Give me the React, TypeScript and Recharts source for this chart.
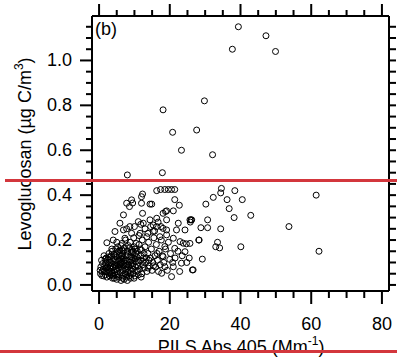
import React from "react";
import { ScatterChart, Scatter, XAxis, YAxis } from "recharts";

// sparse high values
const highOutliers: [number, number][] = [
  [39.4, 1.15], [47.2, 1.11], [37.7, 1.05], [49.9, 1.04], [29.8, 0.82],
  [18.1, 0.78], [27.6, 0.69], [20.8, 0.68], [23.3, 0.6], [32.1, 0.58],
  [17.9, 0.5], [8.0, 0.49],
];

// right hand spread, x > 25
const upperSpread: [number, number][] = [
  [34.6, 0.43], [34.4, 0.41], [38.4, 0.42], [40.5, 0.38], [32.3, 0.39],
  [30.2, 0.36], [36.2, 0.38], [36.8, 0.34], [38.2, 0.3], [42.9, 0.31],
  [61.4, 0.4], [53.7, 0.26], [62.2, 0.15], [40.1, 0.17], [34.4, 0.25],
  [30.7, 0.29], [28.8, 0.255], [30.7, 0.255], [28.2, 0.2], [33.5, 0.19],
  [33.0, 0.17], [34.1, 0.165], [29.2, 0.115], [26.4, 0.067], [26.0, 0.29],
  [25.8, 0.28], [25.7, 0.185], [26.2, 0.29], [26.6, 0.067],
];

// middle range, x 4..25
const midSpread: [number, number][] = [
  [16.3, 0.42], [17.4, 0.425], [18.6, 0.425], [19.6, 0.425], [20.5, 0.425], [21.4, 0.425],
  [21.4, 0.38], [22.7, 0.355], [21.0, 0.33], [19.1, 0.33], [25.7, 0.29], [28.3, 0.2],
  [20.5, 0.037], [23.3, 0.097], [24.3, 0.148], [24.7, 0.183], [23.8, 0.186], [21.0, 0.208],
  [21.4, 0.163], [21.9, 0.245], [22.4, 0.275], [19.1, 0.29], [18.1, 0.252], [19.1, 0.223],
  [18.6, 0.171], [18.1, 0.126], [20.0, 0.114], [18.6, 0.081], [17.7, 0.052], [21.0, 0.081],
  [12.3, 0.405], [12.0, 0.393], [9.2, 0.379], [7.8, 0.364], [8.6, 0.349], [12.0, 0.364],
  [14.4, 0.36], [6.9, 0.312], [12.3, 0.319], [11.1, 0.282], [12.5, 0.275], [18.1, 0.319],
  [5.9, 0.275], [4.5, 0.238], [6.9, 0.245], [8.7, 0.26], [9.2, 0.23], [2.2, 0.188],
  [4.0, 0.2], [7.3, 0.208], [11.6, 0.23], [13.5, 0.215], [16.3, 0.26], [15.3, 0.238],
  [17.2, 0.215], [19.1, 0.245], [14.4, 0.29], [16.3, 0.297], [15.3, 0.267], [7.8, 0.25],
  [9.5, 0.365], [14.9, 0.36], [18.8, 0.327], [24.3, 0.245], [22.9, 0.193],
];

// edge of the cluster
const fringe: [number, number][] = [
  [12.5, 0.12], [12.8, 0.075], [13.0, 0.17], [13.2, 0.1], [13.5, 0.06], [13.8, 0.14],
  [14.0, 0.19], [14.2, 0.085], [14.5, 0.12], [14.8, 0.16], [15.0, 0.065], [15.2, 0.1],
  [15.5, 0.21], [15.8, 0.13], [16.0, 0.08], [16.2, 0.18], [16.5, 0.11], [16.8, 0.06],
  [17.0, 0.15], [17.3, 0.09], [17.6, 0.2], [17.9, 0.13], [18.3, 0.1], [18.8, 0.16],
  [19.3, 0.065], [19.6, 0.19], [20.2, 0.14], [20.8, 0.1], [21.5, 0.12], [22.3, 0.15],
  [22.8, 0.06], [23.5, 0.13], [24.8, 0.1], [25.5, 0.12],
  [5.0, 0.19], [6.2, 0.175], [7.5, 0.2], [8.8, 0.19], [9.8, 0.21], [10.5, 0.185],
  [11.3, 0.22], [12.2, 0.2], [13.0, 0.25], [13.8, 0.23], [14.6, 0.26], [15.7, 0.24],
  [16.7, 0.28], [17.5, 0.26], [10.0, 0.26], [11.8, 0.27],
];

// dense core near the origin
const coreA: [number, number][] = [
  [0.4, 0.05], [0.5, 0.08], [0.3, 0.065], [0.8, 0.042], [1.0, 0.095], [0.7, 0.11],
  [1.5, 0.06], [1.6, 0.085], [1.8, 0.045], [2.0, 0.12], [1.9, 0.1], [2.2, 0.035], [1.4, 0.13],
  [2.5, 0.07], [2.7, 0.055], [2.6, 0.09], [2.9, 0.11], [3.0, 0.04], [2.8, 0.14], [3.1, 0.075], [3.2, 0.125],
  [3.5, 0.06], [3.6, 0.095], [3.8, 0.03], [3.7, 0.15], [4.0, 0.08], [4.1, 0.115], [3.9, 0.05], [4.2, 0.135], [4.3, 0.065],
  [4.5, 0.1], [4.6, 0.045], [4.8, 0.085], [4.7, 0.16], [5.0, 0.125], [5.1, 0.06], [5.0, 0.025], [4.9, 0.14], [5.3, 0.105],
  [5.5, 0.075], [5.6, 0.035], [5.8, 0.09], [5.7, 0.13], [6.0, 0.055], [6.1, 0.115], [5.9, 0.155], [6.2, 0.02], [6.3, 0.08],
  [6.5, 0.1], [6.6, 0.04], [6.8, 0.065], [6.7, 0.14], [7.0, 0.085], [7.1, 0.025], [6.9, 0.12], [7.2, 0.165], [7.3, 0.05],
  [7.5, 0.095], [7.6, 0.07], [7.8, 0.035], [7.7, 0.13], [8.0, 0.11], [8.1, 0.055], [7.9, 0.15], [8.2, 0.08], [8.3, 0.175],
  [8.5, 0.04], [8.6, 0.1], [8.8, 0.065], [8.7, 0.125], [9.0, 0.09], [9.1, 0.145], [8.9, 0.03], [9.3, 0.11], [9.2, 0.16],
  [9.5, 0.07], [9.6, 0.05], [9.8, 0.12], [9.7, 0.095], [10.0, 0.135], [10.1, 0.04], [9.9, 0.17], [10.3, 0.08],
  [10.5, 0.105], [10.6, 0.06], [10.8, 0.15], [10.7, 0.125], [11.0, 0.085], [11.1, 0.045], [11.3, 0.18], [11.2, 0.1],
  [11.5, 0.07], [11.8, 0.13], [11.7, 0.11], [12.0, 0.155], [12.1, 0.05], [12.3, 0.09],
];

const coreB: [number, number][] = [
  [1.2, 0.07], [2.3, 0.08], [3.3, 0.1], [4.4, 0.09], [5.4, 0.09], [6.4, 0.07], [7.4, 0.11],
  [8.4, 0.09], [9.4, 0.085], [2.1, 0.06], [3.4, 0.045], [4.4, 0.055], [5.2, 0.045], [6.4, 0.13],
  [7.6, 0.045], [8.3, 0.06], [5.6, 0.11], [4.3, 0.03], [6.0, 0.095], [7.0, 0.105], [3.0, 0.06],
  [1.3, 0.04], [2.4, 0.1], [5.5, 0.15], [6.6, 0.155], [9.6, 0.15], [10.2, 0.115],
];

const coreC: [number, number][] = [
  [0.9, 0.06], [1.7, 0.115], [2.6, 0.125], [3.5, 0.13], [4.6, 0.13], [5.8, 0.14], [6.9, 0.15],
  [8.1, 0.135], [9.1, 0.125], [10.4, 0.14], [11.6, 0.16], [12.7, 0.14], [13.4, 0.12], [14.1, 0.11],
  [3.2, 0.085], [4.9, 0.07], [6.2, 0.1], [7.9, 0.09], [8.9, 0.05], [10.9, 0.065], [12.4, 0.105],
  [13.9, 0.075], [15.4, 0.085], [16.4, 0.14], [2.0, 0.075], [4.0, 0.04], [6.7, 0.03], [8.0, 0.02],
  [9.9, 0.03], [11.9, 0.035], [3.6, 0.16], [5.3, 0.17], [6.5, 0.185], [8.6, 0.165], [10.2, 0.16],
];

const xTicks = [0, 5, 10, 15, 20, 25, 30, 35, 40, 45, 50, 55, 60, 65, 70, 75, 80];
const yTicks = [
  0, 0.05, 0.1, 0.15, 0.2, 0.25, 0.3, 0.35, 0.4, 0.45, 0.5, 0.55,
  0.6, 0.65, 0.7, 0.75, 0.8, 0.85, 0.9, 0.95, 1.0, 1.05, 1.1, 1.15,
];
const xDomain = [-2, 82];
const yDomain = [-0.027, 1.198];

const points = [...coreA, ...coreB, ...coreC, ...fringe, ...midSpread, ...upperSpread, ...highOutliers].map(
  ([x, y]) => ({ x, y })
);

const FONT = "'Liberation Sans', Arial, sans-serif";
const isMajorX = (v: number) => v % 20 === 0;
const isMajorY = (v: number) => Math.round(v * 100) % 20 === 0;

// plot box = chart size minus the axis widths/heights set below
const PLOT = { left: 92, right: 389, top: 16, bottom: 291 };
const sx = (v: number) =>
  PLOT.left + ((v - xDomain[0]) / (xDomain[1] - xDomain[0])) * (PLOT.right - PLOT.left);
const sy = (v: number) =>
  PLOT.bottom - ((v - yDomain[0]) / (yDomain[1] - yDomain[0])) * (PLOT.bottom - PLOT.top);

const BottomTick = (props: any) => {
  const { x, y, payload } = props;
  const v = payload.value;
  if (!isMajorX(v)) return <g />;
  return (
    <text x={x} y={y + 39} textAnchor="middle" fontSize={18} fontFamily={FONT} fill="#000">
      {v}
    </text>
  );
};

const LeftTick = (props: any) => {
  const { x, y, payload } = props;
  const v = payload.value;
  if (!isMajorY(v)) return <g />;
  return (
    <text x={x - 20} y={y + 6} textAnchor="end" fontSize={18} fontFamily={FONT} fill="#000">
      {v.toFixed(1)}
    </text>
  );
};

const NoTick = () => <g />;

const OpenCircle = (props: any) => (
  <circle cx={props.cx} cy={props.cy} r={3} fill="none" stroke="#000" strokeWidth={1} />
);

const Hidden = () => <g />;

// tick marks on all four sides, drawn as thin filled rects
const TickMarks = () => (
  <g fill="#000">
    {xTicks.map((v) => {
      const len = isMajorX(v) ? 13 : 7;
      const lenTop = isMajorX(v) ? 12 : 6;
      return (
        <g key={`x${v}`}>
          <rect x={sx(v) - 1} y={PLOT.bottom} width={2} height={len} />
          <rect x={sx(v) - 1} y={PLOT.top - lenTop} width={2} height={lenTop} />
        </g>
      );
    })}
    {yTicks.map((v) => {
      const len = isMajorY(v) ? 12 : 6;
      return (
        <g key={`y${v}`}>
          <rect x={PLOT.left - len} y={sy(v) - 1} width={len} height={2} />
          <rect x={PLOT.right} y={sy(v) - 1} width={7} height={2} />
        </g>
      );
    })}
  </g>
);

export default function App() {
  return (
    <div style={{ position: "absolute", left: 0, top: 0, width: 397, height: 364, background: "#fff" }}>
      <ScatterChart width={397} height={364} margin={{ top: 0, right: 0, bottom: 0, left: 0 }}>
        <XAxis
          xAxisId="bottom"
          type="number"
          dataKey="x"
          domain={xDomain}
          allowDataOverflow
          ticks={xTicks}
          interval={0}
          height={73}
          tickSize={0}
          tickMargin={0}
          tickLine={false}
          tick={<BottomTick />}
          axisLine={{ stroke: "#000", strokeWidth: 2 }}
        />
        <XAxis
          xAxisId="top"
          orientation="top"
          type="number"
          dataKey="x"
          domain={xDomain}
          allowDataOverflow
          ticks={xTicks}
          interval={0}
          height={16}
          tickSize={0}
          tickLine={false}
          tick={<NoTick />}
          axisLine={{ stroke: "#000", strokeWidth: 2 }}
        />
        <YAxis
          yAxisId="left"
          type="number"
          dataKey="y"
          domain={yDomain}
          allowDataOverflow
          ticks={yTicks}
          interval={0}
          width={92}
          tickSize={0}
          tickMargin={0}
          tickLine={false}
          tick={<LeftTick />}
          axisLine={{ stroke: "#000", strokeWidth: 2 }}
        />
        <YAxis
          yAxisId="right"
          orientation="right"
          type="number"
          dataKey="y"
          domain={yDomain}
          allowDataOverflow
          ticks={yTicks}
          interval={0}
          width={8}
          tickSize={0}
          tickLine={false}
          tick={<NoTick />}
          axisLine={{ stroke: "#000", strokeWidth: 2 }}
        />
        <Scatter
          data={points}
          xAxisId="bottom"
          yAxisId="left"
          shape={OpenCircle}
          isAnimationActive={false}
        />
        <Scatter
          data={points}
          xAxisId="top"
          yAxisId="right"
          shape={Hidden}
          isAnimationActive={false}
        />
      </ScatterChart>
      <svg
        width={397}
        height={364}
        style={{ position: "absolute", left: 0, top: 0, pointerEvents: "none" }}
      >
        <TickMarks />
        <text x={95} y={35} fontSize={18} fontFamily={FONT} fill="#000">
          (b)
        </text>
        <text x={241} y={353} textAnchor="middle" fontSize={18} fontFamily={FONT} fill="#000">
          PILS Abs 405 (Mm
          <tspan dy={-8} fontSize={12}>-1</tspan>
          <tspan dy={8}>)</tspan>
        </text>
        <text
          x={31}
          y={154}
          transform="rotate(-90 31 154)"
          textAnchor="middle"
          fontSize={18}
          fontFamily={FONT}
          fill="#000"
        >
          Levoglucosan (µg C/m
          <tspan dy={-8} fontSize={12}>3</tspan>
          <tspan dy={8}>)</tspan>
        </text>
      </svg>
      <div style={{ position: "absolute", left: 5, top: 179, width: 392, height: 3, background: "#d3363c" }} />
      <div style={{ position: "absolute", left: 0, top: 350, width: 397, height: 3, background: "#d3363c" }} />
    </div>
  );
}
